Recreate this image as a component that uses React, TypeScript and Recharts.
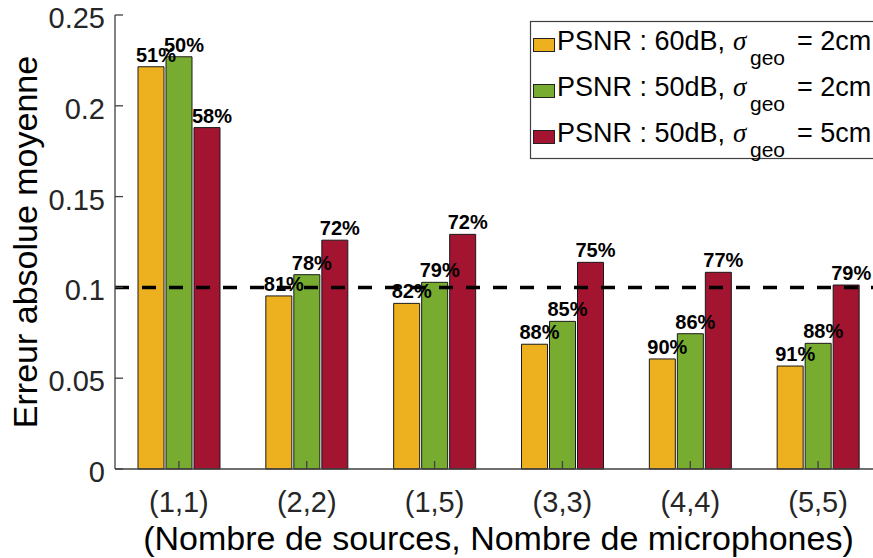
import React from 'react';
import { BarChart, Bar, XAxis, YAxis, ReferenceLine, LabelList, Legend, Label } from 'recharts';

const categories = ['(1,1)', '(2,2)', '(1,5)', '(3,3)', '(4,4)', '(5,5)'];
const psnr60s2 = [0.2215, 0.0953, 0.0912, 0.0687, 0.0606, 0.0567];
const psnr50s2 = [0.227, 0.107, 0.1028, 0.0813, 0.0745, 0.0692];
const psnr50s5 = [0.188, 0.126, 0.1292, 0.1138, 0.1083, 0.1013];
const pct60s2 = [51, 81, 82, 88, 90, 91];
const pct50s2 = [50, 78, 79, 85, 86, 88];
const pct50s5 = [58, 72, 72, 75, 77, 79];
const yTicks = [0, 0.05, 0.1, 0.15, 0.2, 0.25];
const threshold = 0.1;

const seriesNames = [
  { psnr: 'PSNR : 60dB, ', sigma: '= 2cm' },
  { psnr: 'PSNR : 50dB, ', sigma: '= 2cm' },
  { psnr: 'PSNR : 50dB, ', sigma: '= 5cm' },
];
const colors = ['#EDB120', '#77AC30', '#A2142F'];

const data = categories.map((c, i) => ({
  cat: c,
  a: psnr60s2[i],
  b: psnr50s2[i],
  c: psnr50s5[i],
  pa: pct60s2[i],
  pb: pct50s2[i],
  pc: pct50s5[i],
}));

const FONT = '"Liberation Sans", Arial, Helvetica, sans-serif';
const AXIS = '#404040';
const TXT = '#262626';

const XTick = (props: any) => {
  const { x, y, payload } = props;
  return (
    <text x={x} y={y + 20.5} textAnchor="middle" fontFamily={FONT} fontSize={29} fill={TXT}>
      {payload.value}
    </text>
  );
};

const YTick = (props: any) => {
  const { x, y, payload } = props;
  return (
    <text x={x} y={y + 13} textAnchor="end" fontFamily={FONT} fontSize={29} fill={TXT}>
      {String(payload.value)}
    </text>
  );
};

const PctLabel = (props: any) => {
  const { x, y, width, value } = props;
  return (
    <text
      x={Number(x) + Number(width) / 2 + 5}
      y={Number(y) - 5}
      textAnchor="middle"
      fontFamily={FONT}
      fontWeight="bold"
      fontSize={20}
      fill="#000"
    >
      {value}%
    </text>
  );
};

const LegendBox = () => (
  <svg width={360} height={140} style={{ display: 'block', overflow: 'visible' }}>
    <rect x={0.5} y={0.5} width={380} height={137} fill="#fff" stroke={AXIS} strokeWidth={1.2} />
    {seriesNames.map((s, i) => {
      const by = 29 + 46 * i;
      return (
        <g key={i}>
          <rect x={3.5} y={by - 11.5} width={21} height={13} fill={colors[i]} stroke="#222" strokeWidth={1} />
          <text y={by} fontFamily={FONT} fontSize={27} fill="#000">
            <tspan x={27}>{s.psnr}</tspan>
          </text>
          <text x={203} y={by} fontFamily='"Liberation Serif", "DejaVu Serif", serif' fontStyle="italic" fontSize={27} fill="#000">
            σ
          </text>
          <text x={220} y={by + 15} fontFamily={FONT} fontSize={21} fill="#000">
            geo
          </text>
          <text x={267} y={by} fontFamily={FONT} fontSize={27} fill="#000">
            {s.sigma}
          </text>
        </g>
      );
    })}
  </svg>
);

const YLabel = (props: any) => {
  const vb = props.viewBox || { x: 0, y: 15, width: 115, height: 454 };
  const cx = vb.x + 37;
  const cy = vb.y + vb.height / 2;
  return (
    <text
      x={cx}
      y={cy}
      transform={`rotate(-90 ${cx} ${cy})`}
      textAnchor="middle"
      fontFamily={FONT}
      fontSize={34}
      fill="#000"
    >
      Erreur absolue moyenne
    </text>
  );
};

const XLabel = (props: any) => {
  const vb = props.viewBox || { x: 115, y: 469, width: 767, height: 89 };
  const cx = vb.x + vb.width / 2;
  return (
    <text x={cx} y={vb.y + 81} textAnchor="middle" fontFamily={FONT} fontSize={34} fill="#000">
      (Nombre de sources, Nombre de microphones)
    </text>
  );
};

export default function App() {
  return (
    <div style={{ position: 'absolute', left: 0, top: 0, width: 873, height: 558, overflow: 'hidden', background: '#fff' }}>
      <BarChart
        width={890}
        height={558}
        data={data}
        margin={{ top: 15, right: 8, bottom: 0, left: 0 }}
        barSize={26}
        barGap={2}
      >
        <XAxis
          dataKey="cat"
          xAxisId="bottom"
          height={89}
          interval={0}
          tickSize={-8}
          tickMargin={30}
          tick={<XTick />}
          axisLine={{ stroke: AXIS, strokeWidth: 1.3 }}
          tickLine={{ stroke: AXIS, strokeWidth: 1.3 }}
        >
          <Label content={<XLabel />} />
        </XAxis>
        <XAxis
          dataKey="cat"
          xAxisId="top"
          orientation="top"
          height={0}
          interval={0}
          tickSize={-8}
          tick={false}
          axisLine={{ stroke: AXIS, strokeWidth: 1.3 }}
          tickLine={{ stroke: AXIS, strokeWidth: 1.3 }}
        />
        <YAxis
          width={115}
          domain={[0, 0.25]}
          ticks={yTicks}
          interval={0}
          tickSize={-8}
          tickMargin={18}
          tick={<YTick />}
          axisLine={{ stroke: AXIS, strokeWidth: 1.3 }}
          tickLine={{ stroke: AXIS, strokeWidth: 1.3 }}
        >
          <Label content={<YLabel />} />
        </YAxis>
        <Bar xAxisId="bottom" dataKey="a" fill={colors[0]} stroke="#1a1a1a" strokeWidth={1} isAnimationActive={false}>
          <LabelList dataKey="pa" content={<PctLabel />} />
        </Bar>
        <Bar xAxisId="bottom" dataKey="b" fill={colors[1]} stroke="#1a1a1a" strokeWidth={1} isAnimationActive={false}>
          <LabelList dataKey="pb" content={<PctLabel />} />
        </Bar>
        <Bar xAxisId="bottom" dataKey="c" fill={colors[2]} stroke="#1a1a1a" strokeWidth={1} isAnimationActive={false}>
          <LabelList dataKey="pc" content={<PctLabel />} />
        </Bar>
        <ReferenceLine
          xAxisId="bottom"
          y={threshold}
          stroke="#000"
          strokeWidth={3.5}
          strokeDasharray="14 13"
        />
        <Legend
          layout="vertical"
          align="center"
          verticalAlign="middle"
          content={<LegendBox />}
          wrapperStyle={{ position: 'absolute', left: 530, top: 21, width: 360, height: 140 }}
        />
      </BarChart>
    </div>
  );
}
